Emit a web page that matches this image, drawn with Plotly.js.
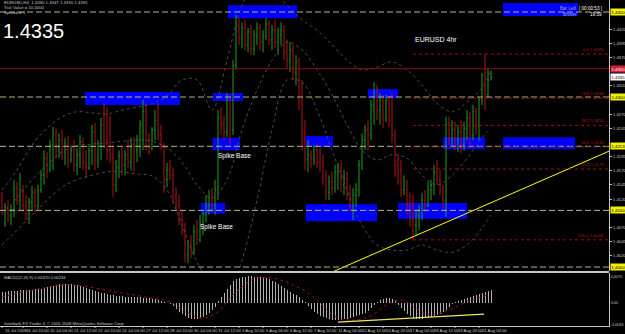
<!DOCTYPE html>
<html><head><meta charset="utf-8">
<script src="https://cdn.plot.ly/plotly-3.0.1.min.js"></script>
<style>html,body{margin:0;padding:0;background:#000;}#chart{width:625px;height:334px;}</style>
</head><body><div id="chart"></div>
<script>
const openP = [1.4118,1.4101,1.4106,1.4090,1.4102,1.4139,1.4118,1.4136,1.4109,1.4094,
1.4115,1.4132,1.4108,1.4136,1.4162,1.4192,1.4171,1.4215,1.4233,1.4206,
1.4224,1.4203,1.4217,1.4189,1.4206,1.4180,1.4198,1.4221,1.4185,1.4175,
1.4206,1.4238,1.4189,1.4214,1.4251,1.4224,1.4206,1.4192,1.4145,1.4175,
1.4196,1.4180,1.4198,1.4185,1.4215,1.4206,1.4224,1.4251,1.4274,1.4224,
1.4210,1.4242,1.4259,1.4233,1.4215,1.4154,1.4171,1.4162,1.4127,1.4109,
1.4083,1.4065,1.4021,1.4039,1.4030,1.4062,1.4048,1.4079,1.4092,1.4109,
1.4122,1.4109,1.4136,1.4263,1.4251,1.4238,1.4295,1.4242,1.4356,1.4427,
1.4404,1.4422,1.4392,1.4415,1.4386,1.4409,1.4422,1.4397,1.4408,1.4429,
1.4401,1.4418,1.4397,1.4409,1.4418,1.4379,1.4365,1.4383,1.4344,1.4362,
1.4295,1.4224,1.4189,1.4198,1.4192,1.4206,1.4185,1.4180,1.4157,1.4132,
1.4150,1.4139,1.4168,1.4175,1.4145,1.4157,1.4127,1.4109,1.4127,1.4136,
1.4180,1.4224,1.4242,1.4233,1.4286,1.4309,1.4277,1.4295,1.4263,1.4295,
1.4259,1.4233,1.4180,1.4171,1.4136,1.4150,1.4109,1.4083,1.4074,1.4092,
1.4101,1.4118,1.4109,1.4136,1.4145,1.4168,1.4154,1.4136,1.4118,1.4251,
1.4228,1.4242,1.4224,1.4238,1.4215,1.4245,1.4263,1.4233,1.4274,1.4251,
1.4295,1.4339,1.4304,1.4330];
const highP = [1.4132,1.4113,1.4118,1.4109,1.4154,1.4150,1.4166,1.4145,1.4127,1.4122,
1.4143,1.4139,1.4145,1.4171,1.4206,1.4203,1.4224,1.4247,1.4245,1.4236,
1.4242,1.4228,1.4231,1.4215,1.4224,1.4210,1.4233,1.4228,1.4206,1.4215,
1.4251,1.4254,1.4224,1.4263,1.4289,1.4281,1.4268,1.4215,1.4189,1.4206,
1.4210,1.4206,1.4224,1.4228,1.4229,1.4233,1.4259,1.4295,1.4289,1.4236,
1.4247,1.4277,1.4289,1.4251,1.4219,1.4184,1.4189,1.4176,1.4141,1.4127,
1.4101,1.4078,1.4048,1.4056,1.4074,1.4083,1.4092,1.4097,1.4127,1.4136,
1.4139,1.4154,1.4277,1.4281,1.4268,1.4307,1.4304,1.4365,1.4445,1.4439,
1.4432,1.4436,1.4422,1.4427,1.4418,1.4432,1.4429,1.4418,1.4439,1.4436,
1.4427,1.4436,1.4422,1.4432,1.4427,1.4401,1.4397,1.4392,1.4374,1.4369,
1.4330,1.4259,1.4224,1.4206,1.4215,1.4219,1.4210,1.4198,1.4171,1.4162,
1.4168,1.4180,1.4184,1.4189,1.4171,1.4168,1.4145,1.4139,1.4148,1.4189,
1.4236,1.4251,1.4259,1.4295,1.4326,1.4321,1.4307,1.4304,1.4304,1.4302,
1.4307,1.4242,1.4198,1.4189,1.4162,1.4154,1.4131,1.4127,1.4101,1.4109,
1.4131,1.4136,1.4150,1.4154,1.4180,1.4189,1.4171,1.4145,1.4265,1.4265,
1.4259,1.4256,1.4251,1.4259,1.4256,1.4277,1.4274,1.4286,1.4281,1.4300,
1.4342,1.4376,1.4351,1.4347];
const lowP = [1.4095,1.4071,1.4079,1.4074,1.4088,1.4109,1.4101,1.4097,1.4083,1.4076,
1.4101,1.4097,1.4102,1.4131,1.4145,1.4157,1.4168,1.4171,1.4192,1.4192,
1.4189,1.4180,1.4175,1.4184,1.4168,1.4162,1.4175,1.4171,1.4157,1.4171,
1.4180,1.4171,1.4175,1.4189,1.4210,1.4189,1.4185,1.4124,1.4132,1.4157,
1.4162,1.4162,1.4175,1.4171,1.4168,1.4185,1.4194,1.4206,1.4206,1.4198,
1.4206,1.4224,1.4224,1.4206,1.4131,1.4141,1.4154,1.4113,1.4101,1.4074,
1.4056,1.4009,1.4007,1.4016,1.4021,1.4039,1.4044,1.4056,1.4079,1.4092,
1.4097,1.4092,1.4118,1.4233,1.4224,1.4229,1.4215,1.4233,1.4348,1.4392,
1.4386,1.4383,1.4379,1.4374,1.4374,1.4392,1.4383,1.4379,1.4401,1.4392,
1.4383,1.4386,1.4374,1.4392,1.4365,1.4351,1.4344,1.4330,1.4321,1.4277,
1.4206,1.4171,1.4168,1.4175,1.4180,1.4175,1.4168,1.4145,1.4118,1.4118,
1.4127,1.4131,1.4136,1.4132,1.4127,1.4118,1.4097,1.4083,1.4106,1.4124,
1.4171,1.4206,1.4206,1.4224,1.4251,1.4259,1.4251,1.4245,1.4256,1.4247,
1.4219,1.4159,1.4145,1.4124,1.4127,1.4092,1.4071,1.4047,1.4056,1.4065,
1.4083,1.4097,1.4106,1.4118,1.4127,1.4145,1.4127,1.4101,1.4088,1.4215,
1.4212,1.4206,1.4203,1.4201,1.4206,1.4224,1.4215,1.4224,1.4233,1.4224,
1.4286,1.4277,1.4300,1.4330];
const closeP = [1.4101,1.4106,1.4090,1.4102,1.4139,1.4118,1.4136,1.4109,1.4094,1.4115,
1.4132,1.4108,1.4136,1.4162,1.4192,1.4171,1.4215,1.4233,1.4206,1.4224,
1.4203,1.4217,1.4189,1.4206,1.4180,1.4198,1.4221,1.4185,1.4175,1.4206,
1.4238,1.4189,1.4214,1.4251,1.4224,1.4206,1.4192,1.4145,1.4175,1.4196,
1.4180,1.4198,1.4185,1.4215,1.4206,1.4224,1.4251,1.4274,1.4224,1.4210,
1.4242,1.4259,1.4233,1.4215,1.4154,1.4171,1.4162,1.4127,1.4109,1.4083,
1.4065,1.4021,1.4039,1.4030,1.4062,1.4048,1.4079,1.4092,1.4109,1.4122,
1.4109,1.4136,1.4263,1.4251,1.4238,1.4295,1.4242,1.4356,1.4427,1.4404,
1.4422,1.4392,1.4415,1.4386,1.4409,1.4422,1.4397,1.4408,1.4429,1.4401,
1.4418,1.4397,1.4409,1.4418,1.4379,1.4365,1.4383,1.4344,1.4362,1.4295,
1.4224,1.4189,1.4198,1.4192,1.4206,1.4185,1.4180,1.4157,1.4132,1.4150,
1.4139,1.4168,1.4175,1.4145,1.4157,1.4127,1.4109,1.4127,1.4136,1.4180,
1.4224,1.4242,1.4233,1.4286,1.4309,1.4277,1.4295,1.4263,1.4295,1.4259,
1.4233,1.4180,1.4171,1.4136,1.4150,1.4109,1.4083,1.4074,1.4092,1.4101,
1.4118,1.4109,1.4136,1.4145,1.4168,1.4154,1.4136,1.4118,1.4251,1.4228,
1.4242,1.4224,1.4238,1.4215,1.4245,1.4263,1.4233,1.4274,1.4251,1.4295,
1.4339,1.4304,1.4330,1.4335];

const macdHist = [0.0032,0.0032,0.0035,0.0035,0.0035,0.0035,0.0037,0.0037,0.0037,0.0037,
0.0037,0.0040,0.0040,0.0040,0.0043,0.0046,0.0049,0.0049,0.0052,0.0055,
0.0055,0.0055,0.0055,0.0055,0.0052,0.0052,0.0049,0.0046,0.0043,0.0040,
0.0037,0.0035,0.0032,0.0029,0.0029,0.0026,0.0023,0.0023,0.0020,0.0020,
0.0020,0.0017,0.0017,0.0017,0.0017,0.0017,0.0017,0.0014,0.0014,0.0014,
0.0012,0.0012,0.0009,0.0006,0.0003,0.0000,-0.0003,-0.0009,-0.0017,-0.0026,
-0.0032,-0.0037,-0.0043,-0.0046,-0.0046,-0.0046,-0.0043,-0.0040,-0.0035,-0.0029,
-0.0020,-0.0012,0.0006,0.0017,0.0029,0.0040,0.0052,0.0063,0.0069,0.0072,
0.0075,0.0075,0.0078,0.0078,0.0075,0.0075,0.0075,0.0072,0.0072,0.0069,
0.0063,0.0060,0.0055,0.0049,0.0043,0.0037,0.0032,0.0026,0.0023,0.0017,
0.0009,0.0003,-0.0009,-0.0017,-0.0026,-0.0032,-0.0037,-0.0040,-0.0043,-0.0046,
-0.0049,-0.0049,-0.0049,-0.0049,-0.0046,-0.0046,-0.0043,-0.0040,-0.0037,-0.0035,
-0.0032,-0.0029,-0.0023,-0.0014,-0.0006,0.0003,0.0009,0.0012,0.0014,0.0014,
0.0012,0.0009,-0.0006,-0.0014,-0.0023,-0.0032,-0.0037,-0.0043,-0.0046,-0.0046,
-0.0046,-0.0043,-0.0043,-0.0040,-0.0037,-0.0035,-0.0032,-0.0026,-0.0020,-0.0012,
-0.0003,0.0003,0.0006,0.0009,0.0012,0.0014,0.0017,0.0020,0.0023,0.0026,
0.0029,0.0032,0.0035,0.0037];
const signalIdx = [0,10,22,29,36,44,50,56,62,66,71,77,84,90,97,103,106,112,118,123,128,133,137,142,148,155,162];
const signalVal = [0.0017,0.0037,0.0052,0.0046,0.0035,0.0023,0.0014,0.0003,-0.0029,-0.0043,
-0.0032,0.0023,0.0069,0.0072,0.0052,0.0023,0.0000,-0.0043,-0.0049,-0.0037,
-0.0006,0.0009,-0.0009,-0.0032,-0.0023,0.0003,0.0023];

const bbIdx = [0,5,10,15,20,25,30,35,40,45,50,55,60,65,70,75,80,85,90,95,100,105,110,115,120,125,130,135,140,145,150,155,160,163];
const bbUpper = [1.4136,1.4171,1.4215,1.4245,1.4265,1.4274,1.4272,1.4270,1.4277,1.4282,
1.4288,1.4302,1.4330,1.4330,1.4277,1.4365,1.4462,1.4506,1.4489,1.4462,
1.4436,1.4418,1.4392,1.4365,1.4348,1.4353,1.4362,1.4348,1.4321,1.4289,
1.4274,1.4291,1.4316,1.4348];
const bbMiddle = [1.4092,1.4122,1.4154,1.4180,1.4203,1.4214,1.4217,1.4219,1.4222,1.4224,
1.4222,1.4210,1.4185,1.4145,1.4122,1.4154,1.4242,1.4312,1.4365,1.4397,
1.4383,1.4348,1.4304,1.4251,1.4206,1.4189,1.4198,1.4192,1.4162,1.4145,
1.4162,1.4192,1.4228,1.4245];
const bbLower = [1.4039,1.4065,1.4092,1.4118,1.4141,1.4154,1.4162,1.4168,1.4168,1.4164,
1.4161,1.4136,1.4074,1.4009,1.3968,1.3942,1.4012,1.4118,1.4242,1.4330,
1.4326,1.4277,1.4206,1.4136,1.4074,1.4039,1.4030,1.4030,1.4039,1.4030,
1.4026,1.4039,1.4069,1.4092];

const levelPrices = [1.4450,1.4300,1.4213,1.4100,1.4000];
const levelLabels = ['1.4450','1.4300','1.4213','1.4100','1.4000'];
const redLevel = 1.4350, redLabel = '1.4350';
const bidPrice = 1.4335, bidLabel = '1.4335';
const fibStart = 137;
const fibNames = ['0.0','23.6','38.2','50.0','61.8','100.0'];
const fibPrices = [1.4376,1.4298,1.4250,1.4212,1.4173,1.4048];

const zoneStart = [27.7,70.3,70.3,66.3,101.3,101.3,122,132,147,167,75.3,167];
const zoneEnd   = [59.3,80.3,79.3,74.3,110.3,125,132,155,161,191,98.3,192];
const zoneTop   = [1.4309,1.4307,1.4228,1.4113,1.4231,1.4111,1.4314,1.4113,1.4229,1.4229,1.4462,1.4466];
const zoneBottom= [1.4286,1.4293,1.4206,1.4094,1.4212,1.4081,1.4298,1.4085,1.4208,1.4208,1.4439,1.4443];

const trendX = [107,203], trendY = [1.3984,1.4206];
const macdTrendX = [112,160.7], macdTrendY = [-0.0055,-0.0032];

const timeTickIdx = [0,7,15,23,31,39,47,55,63,71,79,87,95,103,111,119,127,135,143,151,159];
const timeTickText = ['15 Jul 2009','16 Jul 20:00','20 Jul 04:00','21 Jul 12:00','22 Jul 20:00','24 Jul 04:00','27 Jul 12:00','28 Jul 20:00','30 Jul 04:00','31 Jul 12:00','3 Aug 20:00','5 Aug 04:00','6 Aug 12:00','7 Aug 20:00','11 Aug 04:00','12 Aug 12:00','13 Aug 20:00','17 Aug 04:00','18 Aug 12:00','19 Aug 20:00','21 Aug 04:00'];
const priceTicks = [1.4020,1.4045,1.4070,1.4120,1.4145,1.4170,1.4195,1.4245,1.4270,1.4320,1.4370,1.4395,1.4420];
const macdTicks = [0.0075,0,-0.0063], macdTickText = ['0.0075','0.00','-0.0063'];

// ---- layout geometry ----
const W = 625, H = 334, PR = 16, PB = 8;
const plotW = W - PR, plotH = H - PB;
const X_RANGE = [-0.667, 202.33];
const Y_RANGE = [1.3993, 1.44712];
const Y2_RANGE = [-0.00662, 0.00864];
const px = v => v / plotW;
const py = v => 1 - v / plotH;
const FONT = 'Liberation Sans, Arial, sans-serif';
const idx = closeP.map((_, i) => i);

const traces = [];
const bbStyle = {color:'#4c4c4c', width:1, dash:'dot', shape:'spline'};
[bbUpper, bbMiddle, bbLower].forEach(arr => traces.push({type:'scatter', mode:'lines', x:bbIdx, y:arr, line:bbStyle, xaxis:'x', yaxis:'y', hoverinfo:'skip'}));
traces.push({type:'ohlc', x:idx, open:openP, high:highP, low:lowP, close:closeP, xaxis:'x', yaxis:'y',
  increasing:{line:{color:'#1f9f1f', width:1}}, decreasing:{line:{color:'#b31414', width:1}}, tickwidth:0.3, hoverinfo:'skip'});
traces.push({type:'scatter', mode:'lines', x:trendX, y:trendY, line:{color:'#ffff00', width:1}, xaxis:'x', yaxis:'y', hoverinfo:'skip'});
traces.push({type:'bar', x:idx, y:macdHist, marker:{color:'#b0b0b0', line:{width:0}}, width:0.33, xaxis:'x', yaxis:'y2', hoverinfo:'skip'});
traces.push({type:'scatter', mode:'lines', x:signalIdx, y:signalVal, line:{color:'#a01010', width:1, dash:'dot', shape:'spline'}, xaxis:'x', yaxis:'y2', hoverinfo:'skip'});
traces.push({type:'scatter', mode:'lines', x:macdTrendX, y:macdTrendY, line:{color:'#e8e860', width:1.2}, xaxis:'x', yaxis:'y2', hoverinfo:'skip'});

const shapes = [];
zoneStart.forEach((s, k) => shapes.push({type:'rect', xref:'x', yref:'y', x0:s, x1:zoneEnd[k], y0:zoneBottom[k], y1:zoneTop[k], fillcolor:'#0000ff', line:{width:0}, layer:'below'}));
levelPrices.forEach(p => shapes.push({type:'line', xref:'paper', yref:'y', x0:0, x1:1, y0:p, y1:p, line:{color:'#b4b48a', width:1, dash:'6px,3px'}, layer:'above'}));
shapes.push({type:'line', xref:'paper', yref:'y', x0:0, x1:1, y0:redLevel, y1:redLevel, line:{color:'#8b1010', width:1}, layer:'above'});
fibPrices.forEach(p => shapes.push({type:'line', xref:'x', yref:'y', x0:fibStart, x1:X_RANGE[1], y0:p, y1:p, line:{color:'#a01010', width:1, dash:'dot'}, layer:'above'}));
shapes.push({type:'line', xref:'paper', yref:'paper', x0:0, x1:1, y0:py(272), y1:py(272), line:{color:'#c8c8c8', width:2}});
timeTickIdx.forEach(t => shapes.push({type:'line', xref:'x', yref:'paper', x0:t, x1:t, y0:py(326), y1:py(328), line:{color:'#c8c8c8', width:1}}));

const ann = [];
const txt = (x, y, text, size, color, extra) => ann.push(Object.assign({xref:'paper', yref:'paper', x:px(x), y:py(y), text, showarrow:false, xanchor:'left', yanchor:'middle', font:{family:FONT, size, color}}, extra||{}));
txt(2, 3, 'EURUSD,H4  1.4330 1.4347 1.4330 1.4335', 4.3, '#c8c8c8');
txt(2, 8, 'Tick Value = 10.0000', 4.3, '#c8c8c8');
txt(2, 13, 'Spread = 3', 4.3, '#c8c8c8');
txt(1, 31, '1.4335', 20, '#ffffff');
txt(413, 40, 'EURUSD 4hr', 7, '#ffffff');
txt(216, 156, 'Spike Base', 6.5, '#ffffff');
txt(198, 227, 'Spike Base', 6.5, '#ffffff');
txt(558, 9, 'Bar Left', 4.6, '#a0a0ff');
txt(577, 9, '[ 00:00:53 ]', 4.6, '#ffffff');
txt(561, 15, 'Broker', 4.6, '#a0a0ff');
txt(588, 15, '19:59', 4.6, '#ffffff');
txt(2, 277, 'MACD(12,26,9) 0.00370 0.00234', 4.2, '#c8c8c8');
txt(2, 323, 'Interbank FX Trader 4, \u00a9 2001-2009 MetaQuotes Software Corp.', 4.2, '#c8c8c8');
timeTickIdx.forEach((t, k) => ann.push({xref:'x', yref:'paper', x:t, y:py(330.5), text:timeTickText[k], showarrow:false, xanchor:'left', yanchor:'middle', xshift:1, font:{family:FONT, size:4.2, color:'#c8c8c8'}}));
const tag = (p, text, bg, fg) => ann.push({xref:'paper', yref:'y', x:px(610), y:p, text, showarrow:false, xanchor:'left', yanchor:'middle', bgcolor:bg, borderpad:0.5, font:{family:FONT, size:4.3, color:fg}});
levelPrices.forEach((p, k) => tag(p, levelLabels[k], '#f0f000', '#000000'));
tag(redLevel, redLabel, '#d0203a', '#ffffff');
tag(bidPrice, bidLabel, '#ffffff', '#000000');
fibPrices.forEach((p, k) => ann.push({xref:'paper', yref:'y', x:px(606), y:p, text:fibNames[k] + ' ' + p.toFixed(4), showarrow:false, xanchor:'right', yanchor:'bottom', font:{family:FONT, size:4.3, color:'#b01818'}}));

const axisFont = {family:FONT, size:4.3, color:'#c8c8c8'};
const layout = {
  width:W, height:H, margin:{l:0, r:PR, t:0, b:PB, pad:0},
  paper_bgcolor:'#000000', plot_bgcolor:'#000000', showlegend:false, dragmode:false,
  xaxis:{range:X_RANGE, anchor:'y2', showgrid:false, zeroline:false, showline:true, linecolor:'#c8c8c8', linewidth:1,
    showticklabels:false, ticks:'', rangeslider:{visible:false}, fixedrange:true},
  yaxis:{domain:[py(271), 1], range:Y_RANGE, side:'right', anchor:'x', showgrid:false, zeroline:false, showline:true, linecolor:'#c8c8c8', linewidth:1,
    tickmode:'array', tickvals:priceTicks, ticktext:priceTicks.map(v => v.toFixed(4)), ticks:'outside', ticklen:2, tickcolor:'#c8c8c8', tickfont:axisFont, fixedrange:true},
  yaxis2:{domain:[0, py(273)], range:Y2_RANGE, side:'right', anchor:'x', showgrid:false, zeroline:false, showline:true, linecolor:'#c8c8c8', linewidth:1,
    tickmode:'array', tickvals:macdTicks, ticktext:macdTickText, ticks:'', ticklen:0, tickfont:{family:FONT, size:3.7, color:'#c8c8c8'}, fixedrange:true},
  shapes, annotations:ann, bargap:0
};
Plotly.newPlot('chart', traces, layout, {staticPlot:true, displayModeBar:false});
</script></body></html>
